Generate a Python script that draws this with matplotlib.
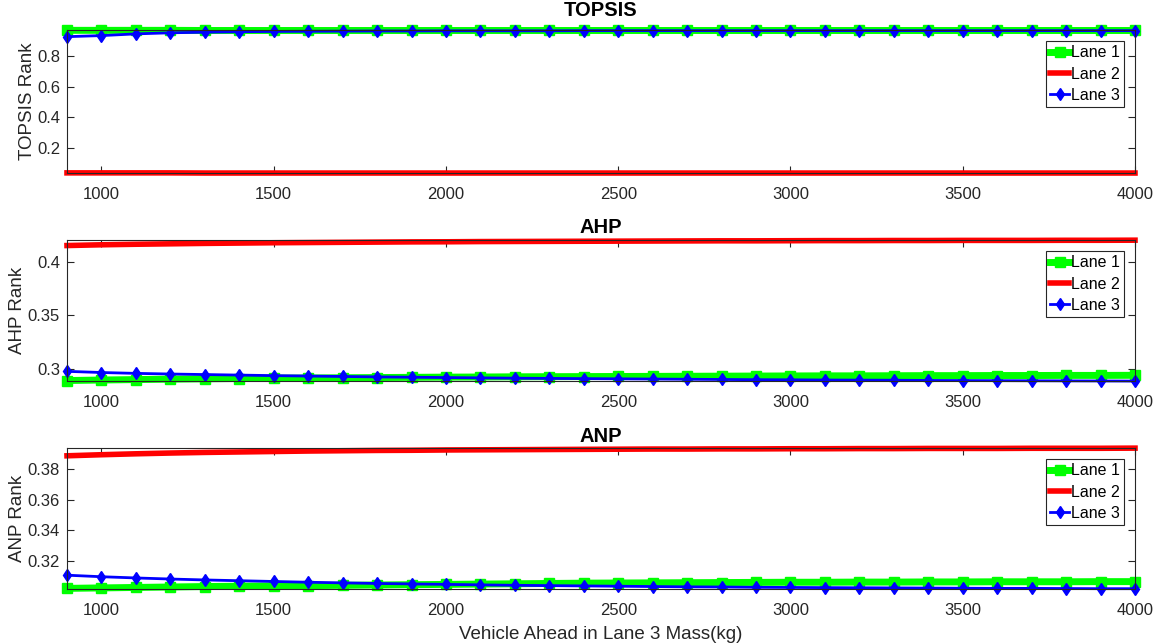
import numpy as np
import matplotlib.pyplot as plt

plt.rcParams['font.family'] = ['Liberation Sans', 'DejaVu Sans']

mass = np.arange(900, 4001, 100)

topsis_lane1 = [0.964, 0.964, 0.964, 0.964, 0.963, 0.963, 0.963, 0.963, 0.963, 0.963, 0.963,
                0.963, 0.963, 0.963, 0.963, 0.963, 0.963, 0.963, 0.963, 0.963, 0.963, 0.963,
                0.963, 0.963, 0.963, 0.963, 0.963, 0.963, 0.963, 0.963, 0.963, 0.963]
topsis_lane2 = [0.041, 0.041, 0.041, 0.041, 0.040, 0.040, 0.040, 0.040, 0.040, 0.040, 0.040,
                0.040, 0.040, 0.040, 0.040, 0.040, 0.040, 0.040, 0.040, 0.040, 0.040, 0.040,
                0.040, 0.040, 0.040, 0.040, 0.040, 0.040, 0.040, 0.040, 0.040, 0.040]
topsis_lane3 = [0.923, 0.930, 0.941, 0.948, 0.952, 0.955, 0.957, 0.958, 0.959, 0.960, 0.960,
                0.961, 0.961, 0.961, 0.961, 0.962, 0.962, 0.962, 0.962, 0.962, 0.962, 0.962,
                0.962, 0.962, 0.962, 0.962, 0.962, 0.962, 0.962, 0.962, 0.962, 0.962]

ahp_lane1 = [0.2889, 0.2894, 0.2898, 0.2902, 0.2905, 0.2908, 0.2911, 0.2913, 0.2915, 0.2917,
             0.2919, 0.2921, 0.2922, 0.2924, 0.2925, 0.2926, 0.2927, 0.2928, 0.2929, 0.2930,
             0.2931, 0.2932, 0.2933, 0.2933, 0.2934, 0.2935, 0.2935, 0.2936, 0.2936, 0.2937,
             0.2937, 0.2938]
ahp_lane2 = [0.4150, 0.4157, 0.4162, 0.4166, 0.4170, 0.4173, 0.4176, 0.4178, 0.4180, 0.4182,
             0.4184, 0.4185, 0.4187, 0.4188, 0.4189, 0.4190, 0.4191, 0.4192, 0.4193, 0.4194,
             0.4194, 0.4195, 0.4196, 0.4196, 0.4197, 0.4197, 0.4198, 0.4198, 0.4198, 0.4199,
             0.4199, 0.4200]
ahp_lane3 = [0.2975, 0.2964, 0.2956, 0.2950, 0.2945, 0.2940, 0.2935, 0.2931, 0.2927, 0.2923,
             0.2920, 0.2917, 0.2914, 0.2911, 0.2909, 0.2907, 0.2905, 0.2903, 0.2901, 0.2899,
             0.2897, 0.2896, 0.2894, 0.2893, 0.2892, 0.2890, 0.2889, 0.2888, 0.2887, 0.2886,
             0.2885, 0.2884]

anp_lane1 = [0.3021, 0.3024, 0.3027, 0.3030, 0.3033, 0.3035, 0.3037, 0.3039, 0.3041, 0.3043,
             0.3045, 0.3047, 0.3049, 0.3051, 0.3053, 0.3055, 0.3056, 0.3057, 0.3058, 0.3059,
             0.3060, 0.3061, 0.3061, 0.3062, 0.3062, 0.3063, 0.3063, 0.3064, 0.3064, 0.3064,
             0.3065, 0.3065]
anp_lane2 = [0.3886, 0.3893, 0.3899, 0.3904, 0.3908, 0.3911, 0.3914, 0.3917, 0.3919, 0.3921,
             0.3922, 0.3924, 0.3925, 0.3926, 0.3927, 0.3928, 0.3929, 0.3930, 0.3930, 0.3931,
             0.3931, 0.3932, 0.3932, 0.3933, 0.3933, 0.3934, 0.3934, 0.3934, 0.3935, 0.3935,
             0.3935, 0.3936]
anp_lane3 = [0.3107, 0.3097, 0.3089, 0.3082, 0.3076, 0.3071, 0.3066, 0.3061, 0.3057, 0.3053,
             0.3050, 0.3047, 0.3044, 0.3041, 0.3039, 0.3037, 0.3035, 0.3033, 0.3031, 0.3030,
             0.3028, 0.3027, 0.3026, 0.3025, 0.3024, 0.3023, 0.3022, 0.3021, 0.3021, 0.3020,
             0.3019, 0.3019]

panels = [
    ('TOPSIS', 'TOPSIS Rank', topsis_lane1, topsis_lane2, topsis_lane3,
     (0.040, 0.966), [0.2, 0.4, 0.6, 0.8], ['0.2', '0.4', '0.6', '0.8'], 10),
    ('AHP', 'AHP Rank', ahp_lane1, ahp_lane2, ahp_lane3,
     (0.2885, 0.4202), [0.3, 0.35, 0.4], ['0.3', '0.35', '0.4'], 5),
    ('ANP', 'ANP Rank', anp_lane1, anp_lane2, anp_lane3,
     (0.3017, 0.3937), [0.32, 0.34, 0.36, 0.38], ['0.32', '0.34', '0.36', '0.38'], 4),
]

fig = plt.figure(figsize=(11.59, 6.43), dpi=100)
positions = [[0.0578, 0.7309, 0.9215, 0.2224],
             [0.0578, 0.4075, 0.9215, 0.2193],
             [0.0578, 0.0840, 0.9215, 0.2193]]
axis_color = '#262626'

for pos, (title, ylab, l1, l2, l3, ylim, yt, ytl, tpad) in zip(positions, panels):
    ax = fig.add_axes(pos)
    ax.plot(mass, l1, color='#00ff00', lw=5, marker='s', ms=7, mfc='#00ff00',
            mec='#00ff00', label='Lane 1', clip_on=False)
    ax.plot(mass, l2, color='#ff0000', lw=4, label='Lane 2', clip_on=False)
    ax.plot(mass, l3, color='#0000ff', lw=2, marker='d', ms=6, mfc='#0000ff',
            mec='#0000ff', label='Lane 3', clip_on=False)
    ax.set_xlim(900, 4000)
    ax.set_ylim(*ylim)
    ax.set_xticks([1000, 1500, 2000, 2500, 3000, 3500, 4000])
    ax.set_yticks(yt)
    ax.set_yticklabels(ytl)
    ax.tick_params(direction='in', top=True, right=True, length=5, width=0.8,
                   labelsize=12, colors=axis_color)
    ax.tick_params(axis='x', pad=10)
    ax.tick_params(axis='y', pad=5)
    for s in ax.spines.values():
        s.set_color(axis_color)
        s.set_linewidth(0.8)
    ax.set_title(title, fontsize=14.5, fontweight='bold', pad=tpad)
    ax.set_ylabel(ylab, fontsize=13.5, color=axis_color, labelpad=1)
    leg = ax.legend(loc='upper right', fontsize=11.5, handlelength=1.2,
                    handletextpad=0.1, borderpad=0.25, labelspacing=0.4,
                    borderaxespad=0.7, fancybox=False, framealpha=1)
    leg.get_frame().set_edgecolor(axis_color)
    leg.get_frame().set_linewidth(0.8)

ax.set_xlabel('Vehicle Ahead in Lane 3 Mass(kg)', fontsize=13.5, color=axis_color, labelpad=6)

fig.savefig('out.png', dpi=100)
